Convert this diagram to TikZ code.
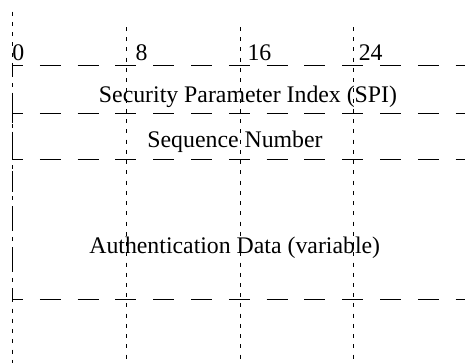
\documentclass[tikz,border=0pt]{standalone}
\usepackage{fontspec}
\setmainfont{Liberation Serif}
\begin{document}
\begin{tikzpicture}[x=1pt,y=-1pt,
  guide/.style={line width=0.8pt,dash pattern=on 4pt off 6.24pt},
  rule/.style={line width=0.9pt,dash pattern=on 21pt off 16.8pt,dash phase=10pt},
  side/.style={line width=0.9pt},
  field/.style={font=\fontsize{23.8}{28}\selectfont,inner sep=0pt,anchor=base},
  bitnum/.style={font=\fontsize{23.8}{28}\selectfont,inner sep=0pt,anchor=base west}]
  \clip (0,0) rectangle (465,362);

  % bit position guides
  \coordinate (g0t) at (12,11.7);   \coordinate (g0b) at (12,370);
  \coordinate (g8t) at (126,27);    \coordinate (g8b) at (126,370);
  \coordinate (g16t) at (240,27);   \coordinate (g16b) at (240,370);
  \coordinate (g24t) at (353,27);   \coordinate (g24b) at (353,370);
  \draw[guide] (g0t) -- (g0b);
  \draw[guide] (g8t) -- (g8b);
  \draw[guide] (g16t) -- (g16b);
  \draw[guide] (g24t) -- (g24b);

  % bit numbers
  \node[bitnum] (l0) at (12.1,60) {0};
  \node[bitnum] (l8) at (135.5,60) {8};
  \node[bitnum] (l16) at (247.3,60) {16};
  \node[bitnum] (l24) at (358.6,60) {24};

  % field boundaries
  \coordinate (r1l) at (12,65.5);  \coordinate (r1r) at (480,65.5);
  \coordinate (r2l) at (12,113.5); \coordinate (r2r) at (480,113.5);
  \coordinate (r3l) at (12,159);   \coordinate (r3r) at (480,159);
  \coordinate (r4l) at (12,299);   \coordinate (r4r) at (480,299);
  \draw[rule] (r1l) -- (r1r);
  \draw[rule] (r2l) -- (r2r);
  \draw[rule] (r3l) -- (r3r);
  \draw[rule] (r4l) -- (r4r);

  % left edges of the fields
  \draw[side,dash pattern=on 21pt off 18pt,dash phase=12pt] (r1l) -- (r2l);
  \draw[side,dash pattern=on 9.5pt off 8.5pt on 27pt off 10pt] (r2l) -- (r3l);
  \draw[side,dash pattern=on 21pt off 18pt,dash phase=27pt] (r3l) -- (r4l);

  % field names
  \node[field] (spi) at (248,102) {Security Parameter Index (SPI)};
  \node[field] (seq) at (235,147) {Sequence Number};
  \node[field] (auth) at (234.7,253) {Authentication Data (variable)};
\end{tikzpicture}
\end{document}
